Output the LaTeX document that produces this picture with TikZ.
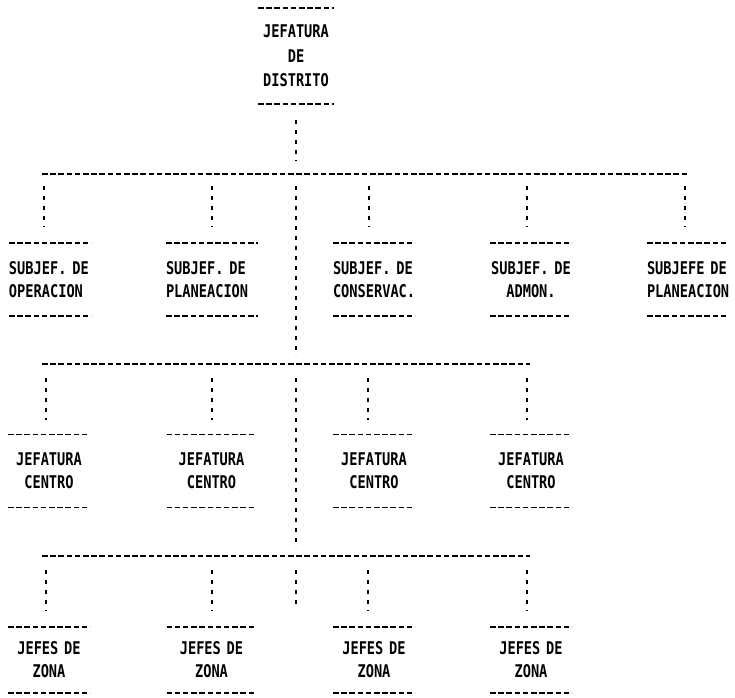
\documentclass[tikz,border=0pt]{standalone}
\usepackage{fontspec}
\newfontfamily\dotfont{DejaVu Sans Mono}[FakeStretch=0.78]
\begin{document}
\begin{tikzpicture}[x=1pt,y=-1pt,
  unit/.style={inner sep=0pt, outer sep=0pt, minimum height=73pt, align=left,
    font=\dotfont\bfseries\fontsize{17.5}{23}\selectfont},
  hrule/.style={line width=1.8pt, dash pattern=on 5.5pt off 2.7pt},
  vrule/.style={line width=1.5pt, dash pattern=on 4pt off 6pt}]
\useasboundingbox (0,0) rectangle (735,697);

% top
\node[unit, text width=76pt, minimum height=96pt, align=center,
  font=\dotfont\bfseries\fontsize{17.5}{24.5}\selectfont] (top) at (296,56) {JEFATURA\\DE\\DISTRITO};

% level 2
\node[unit, text width=82pt] (o1) at (50,279.5) {SUBJEF. DE\\OPERACION};
\node[unit, text width=92pt] (o2) at (212,279.5) {SUBJEF. DE\\PLANEACION};
\node[unit, text width=82pt] (o3) at (374,279.5) {SUBJEF. DE\\CONSERVAC.};
\node[unit, text width=82pt, align=center] (o4) at (531,279.5) {SUBJEF. DE\\ADMON.};
\node[unit, text width=81pt] (o5) at (687.5,279.5) {SUBJEFE DE\\PLANEACION};

% level 3
\node[unit, text width=82pt, align=center] (c1) at (49,471) {JEFATURA\\CENTRO};
\node[unit, text width=90pt, align=center] (c2) at (211.5,471) {JEFATURA\\CENTRO};
\node[unit, text width=82pt, align=center] (c3) at (374,471) {JEFATURA\\CENTRO};
\node[unit, text width=82pt, align=center] (c4) at (531,471) {JEFATURA\\CENTRO};

% level 4
\node[unit, text width=82pt, align=center, minimum height=66pt] (z1) at (49,660) {JEFES DE\\ZONA};
\node[unit, text width=90pt, align=center, minimum height=66pt] (z2) at (211.5,660) {JEFES DE\\ZONA};
\node[unit, text width=82pt, align=center, minimum height=66pt] (z3) at (374,660) {JEFES DE\\ZONA};
\node[unit, text width=82pt, align=center, minimum height=66pt] (z4) at (531,660) {JEFES DE\\ZONA};

\foreach \n in {top,o1,o2,o3,o4,o5,c1,c2,c3,c4,z1,z2,z3,z4}{
  \draw[hrule] (\n.north west) -- (\n.north east);
  \draw[hrule] (\n.south west) -- (\n.south east);
}

% bars
\coordinate (b1l) at (42,174); \coordinate (b1r) at (688,174);
\coordinate (b2l) at (42,364); \coordinate (b2r) at (530,364);
\coordinate (b3l) at (42,556); \coordinate (b3r) at (530,556);
\draw[hrule] (b1l) -- (b1r);
\draw[hrule] (b2l) -- (b2r);
\draw[hrule] (b3l) -- (b3r);

% trunk
\coordinate (t1) at (296,174);
\coordinate (t2) at (296,364);
\coordinate (t3) at (296,556);
\coordinate (tend) at (296,610);
\draw[vrule, shorten <=16pt, shorten >=13pt] (top.south) -- (t1);
\draw[vrule, shorten <=12pt, shorten >=8pt] (t1) -- (t2);
\draw[vrule, shorten <=14pt, shorten >=8pt] (t2) -- (t3);
\draw[vrule, shorten <=14pt] (t3) -- (tend);

% drops level 2
\foreach \x/\n in {44/o1,212/o2,369/o3,527/o4,685/o5}{
  \coordinate (d\n) at (\x,174);
  \draw[vrule, shorten <=12pt, shorten >=16pt] (d\n) -- (d\n |- \n.north);
}
% drops level 3
\foreach \x/\n in {46/c1,212/c2,368/c3,527/c4}{
  \coordinate (d\n) at (\x,364);
  \draw[vrule, shorten <=14pt, shorten >=15pt] (d\n) -- (d\n |- \n.north);
}
% drops level 4
\foreach \x/\n in {46/z1,212/z2,368/z3,527/z4}{
  \coordinate (d\n) at (\x,556);
  \draw[vrule, shorten <=14pt, shorten >=16pt] (d\n) -- (d\n |- \n.north);
}
\end{tikzpicture}
\end{document}
